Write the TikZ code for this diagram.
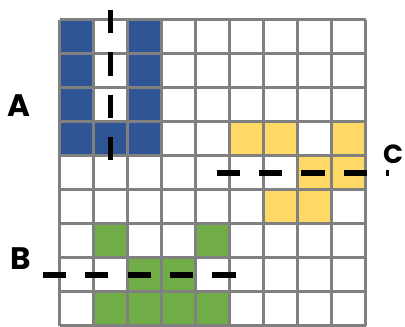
\documentclass[tikz,border=0pt]{standalone}
\usepackage{fontspec}
\setmainfont{Poppins}
\definecolor{cellblue}{HTML}{2F5597}
\definecolor{cellyellow}{HTML}{FFD966}
\definecolor{cellgreen}{HTML}{70AD47}
\definecolor{linegray}{HTML}{808080}

\begin{document}
\begin{tikzpicture}[gridline/.style={draw=linegray,line width=2.2pt},
  cut/.style={line width=4.8pt,dash pattern=on 0.685cm off 0.562cm},
  lbl/.style={font=\bfseries\fontsize{26}{30}\selectfont,inner sep=0pt}]
\useasboundingbox (-1.75,-0.035) rectangle (10.16,9.58);
% coloured cells, (column,row) counted from the top left
\foreach \c/\r in {0/0,0/1,0/2,0/3,2/0,2/1,2/2,2/3,1/3}
  \fill[cellblue] (\c,8-\r) rectangle +(1,1);
\foreach \c/\r in {5/3,6/3,8/3,7/4,8/4,6/5,7/5}
  \fill[cellyellow] (\c,8-\r) rectangle +(1,1);
\foreach \c/\r in {1/6,4/6,2/7,3/7,1/8,2/8,3/8,4/8}
  \fill[cellgreen] (\c,8-\r) rectangle +(1,1);
\draw[gridline] (0,0) grid (9,9);
% cutting lines
\coordinate (cutAtop) at (1.5,9.29);
\coordinate (cutAbot) at (1.5,4.876);
\coordinate (cutBleft) at (-0.494,1.5);
\coordinate (cutBright) at (5.19,1.5);
\coordinate (cutCleft) at (4.62,4.5);
\coordinate (cutCright) at (9.69,4.5);
\draw[cut] (cutAtop) -- (cutAbot);
\draw[cut] (cutBleft) -- (cutBright);
\draw[cut] (cutCleft) -- (cutCright);
\node[lbl] (labA) at (-1.18,6.46) {A};
\node[lbl] (labB) at (-1.14,1.97) {B};
\node[lbl,font=\bfseries\fontsize{22}{26}\selectfont] (labC) at (9.81,5.05) {C};
\end{tikzpicture}
\end{document}
